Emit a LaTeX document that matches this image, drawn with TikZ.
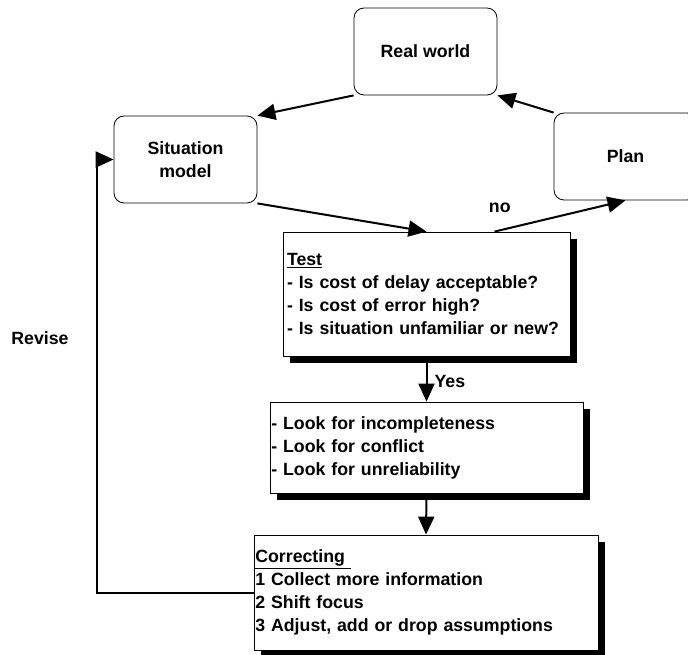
\documentclass[tikz,border=0pt]{standalone}
\usepackage{fontspec}
\setmainfont{Liberation Sans}
\usetikzlibrary{arrows.meta,shadows}

\begin{document}
\begin{tikzpicture}[x=0.75pt, y=-0.75pt, >={Triangle[length=13.5pt,width=12pt]},
  every node/.style={font=\fontsize{13.3}{17.25}\selectfont\bfseries},
  place/.style={draw, line width=0.6pt, fill=white, rounded corners=7.5pt, minimum width=107.25pt, minimum height=65.25pt, align=center},
  textbox/.style={draw, line width=0.6pt, fill=white, align=left, drop shadow={shadow xshift=5.25pt, shadow yshift=-5.25pt, opacity=1, fill=black}},
  flow/.style={->, line width=1.5pt}]
\useasboundingbox (0,0) rectangle (688,655);
% the three places of the cycle
\node[place] (real) at (425.5,51.5) {Real world};
\node[place] (situation) at (185.5,159.5) {Situation\\model};
\node[place] (plan) at (625.5,156.5) {Plan};
% the checking steps
\node[textbox, text width=209.25pt, inner xsep=3pt, minimum height=93pt] (test) at (426.5,294) {\underline{Test}\\- Is cost of delay acceptable?\\- Is cost of error high?\\- Is situation unfamiliar or new?};
\node[textbox, text width=232.75pt, inner xsep=1pt, minimum height=68.25pt] (look) at (426.5,447.5) {- Look for incompleteness\\- Look for conflict\\- Look for unreliability};
\node[textbox, text width=256pt, inner xsep=1pt, minimum height=86.25pt] (correct) at (426,592.5) {\underline{Correcting\ }\\1 Collect more information\\2 Shift focus\\3 Adjust, add or drop assumptions};
\node (revise) at (40,338) {Revise};
% connectors
\draw[flow] (real.south west) -- (situation.north east);
\draw[flow] (plan.north west) -- (real.south east);
\draw[flow] (situation.south east) -- (test.north);
\draw[flow] ([xshift=51pt]test.north) -- node[pos=0.04, above=9pt] (no) {no} (plan.south);
\draw[flow] (test.south) -- node[pos=0.55, right=2pt] (yes) {Yes} (look.north);
\draw[flow] (look.south) -- (correct.north);
\draw[flow] (correct.west) -- ++(-157,0) |- (situation.west);
\end{tikzpicture}
\end{document}
